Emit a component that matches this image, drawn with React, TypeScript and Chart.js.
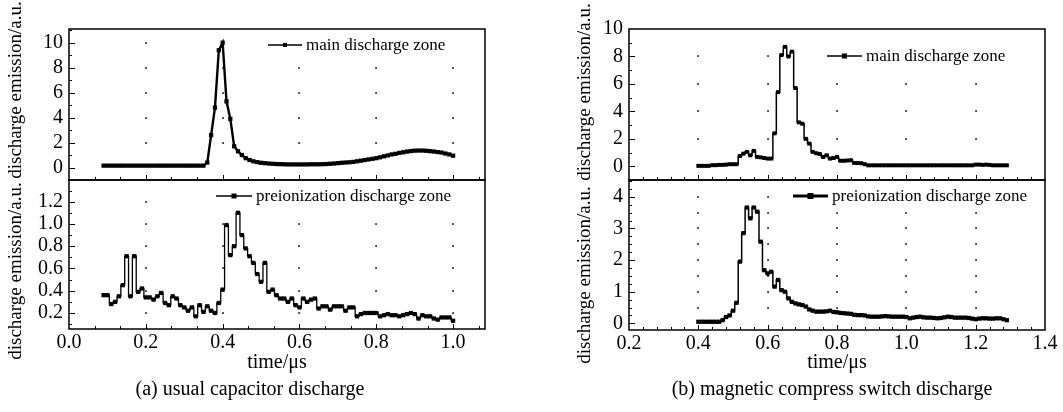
import React, { useEffect, useRef } from "react";
import { Chart, registerables } from "chart.js";
Chart.register(...registerables);

const SERIF = "'Liberation Serif', 'Times New Roman', Times, serif";
const W = 1063;
const H = 412;
const XBOX = 40;

// ---------- data: panel (a) usual capacitor discharge ----------
const timeA = [0.09,0.10,0.11,0.12,0.13,0.14,0.15,0.16,0.17,0.18,0.19,0.20,0.21,0.22,0.23,0.24,0.25,0.26,0.27,0.28,0.29,0.30,0.31,0.32,0.33,0.34,0.35,0.36,0.37,0.38,0.39,0.40,0.41,0.42,0.43,0.44,0.45,0.46,0.47,0.48,0.49,0.50,0.51,0.52,0.53,0.54,0.55,0.56,0.57,0.58,0.59,0.60,0.61,0.62,0.63,0.64,0.65,0.66,0.67,0.68,0.69,0.70,0.71,0.72,0.73,0.74,0.75,0.76,0.77,0.78,0.79,0.80,0.81,0.82,0.83,0.84,0.85,0.86,0.87,0.88,0.89,0.90,0.91,0.92,0.93,0.94,0.95,0.96,0.97,0.98,0.99,1.00];
const mainA = [0.15,0.15,0.15,0.15,0.15,0.15,0.15,0.15,0.15,0.15,0.15,0.15,0.15,0.15,0.15,0.15,0.15,0.15,0.15,0.15,0.15,0.15,0.15,0.15,0.15,0.15,0.15,
  0.4,2.6,4.8,9.4,10.0,5.3,3.9,1.7,1.3,1.0,0.75,0.6,0.5,0.43,0.38,0.35,0.32,0.3,0.28,0.27,
  0.26,0.25,0.25,0.25,0.25,0.25,0.25,0.26,0.26,0.26,0.27,0.28,0.3,0.32,0.35,
  0.38,0.4,0.42,0.45,0.5,0.55,0.6,0.65,0.7,0.75,0.82,0.9,0.97,1.05,1.1,1.17,1.22,1.28,1.32,1.35,1.36,1.36,1.34,1.31,1.28,1.24,1.2,1.12,1.05,0.95];
const preA = [0.36,0.36,0.28,0.30,0.35,0.45,0.71,0.35,0.71,0.39,
  0.42,0.34,0.34,0.32,0.35,0.38,0.29,0.27,0.35,0.33,
  0.27,0.25,0.22,0.25,0.17,0.27,0.21,0.26,0.22,0.20,
  0.29,0.41,0.99,0.72,0.80,1.10,0.90,0.78,0.71,0.65,
  0.55,0.48,0.65,0.39,0.41,0.36,0.33,0.33,0.30,0.33,
  0.27,0.25,0.33,0.30,0.32,0.33,0.24,0.26,0.26,0.23,
  0.26,0.26,0.26,0.22,0.25,0.25,0.17,0.19,0.20,0.20,
  0.20,0.20,0.17,0.18,0.19,0.18,0.18,0.17,0.18,0.19,
  0.20,0.19,0.15,0.18,0.17,0.17,0.15,0.14,0.16,0.16,
  0.16,0.13];

// ---------- data: panel (b) magnetic compress switch discharge ----------
const timeB = [0.40,0.41,0.42,0.43,0.44,0.45,0.46,0.47,0.48,0.49,0.50,0.51,0.52,0.53,0.54,0.55,0.56,0.57,0.58,0.59,0.60,0.61,0.62,0.63,0.64,0.65,0.66,0.67,0.68,0.69,0.70,0.71,0.72,0.73,0.74,0.75,0.76,0.77,0.78,0.79,0.80,0.81,0.82,0.83,0.84,0.85,0.86,0.87,0.88,0.89,0.90,0.91,0.92,0.93,0.94,0.95,0.96,0.97,0.98,0.99,1.00,1.01,1.02,1.03,1.04,1.05,1.06,1.07,1.08,1.09,1.10,1.11,1.12,1.13,1.14,1.15,1.16,1.17,1.18,1.19,1.20,1.21,1.22,1.23,1.24,1.25,1.26,1.27,1.28,1.29];
const mainB = [0.03,0.03,0.03,0.03,0.08,0.08,0.10,0.10,0.12,0.15,
  0.15,0.15,0.75,0.92,1.05,0.80,1.12,0.68,0.65,0.60,
  0.56,0.56,2.40,5.40,8.10,8.70,8.00,8.35,5.70,3.20,
  3.10,2.00,1.65,1.05,0.95,0.90,0.68,0.80,0.56,0.60,
  0.68,0.40,0.40,0.42,0.44,0.24,0.24,0.22,0.15,0.07,
  0.07,0.07,0.07,0.07,0.07,0.07,0.07,0.07,0.07,0.07,
  0.07,0.07,0.07,0.07,0.07,0.07,0.07,0.07,0.07,0.07,
  0.07,0.07,0.07,0.07,0.07,0.07,0.07,0.07,0.07,0.07,
  0.12,0.12,0.10,0.12,0.10,0.07,0.07,0.07,0.07,0.07];
const preB = [0.05,0.05,0.05,0.05,0.05,0.05,0.05,0.10,0.20,0.25,
  0.40,0.65,1.95,2.85,3.66,3.32,3.66,3.53,2.58,1.68,
  1.58,1.63,1.16,1.37,1.05,1.00,0.79,0.68,0.63,0.60,
  0.58,0.53,0.44,0.40,0.37,0.37,0.37,0.38,0.40,0.36,
  0.35,0.33,0.32,0.31,0.30,0.27,0.26,0.26,0.25,0.22,
  0.21,0.21,0.21,0.22,0.23,0.22,0.21,0.21,0.21,0.21,
  0.20,0.16,0.18,0.20,0.21,0.19,0.18,0.18,0.17,0.16,
  0.17,0.19,0.21,0.20,0.18,0.18,0.18,0.18,0.17,0.15,
  0.13,0.15,0.16,0.16,0.15,0.15,0.16,0.16,0.13,0.10];

// ---------- tick labels ----------
const xTicksA = [0.0, 0.2, 0.4, 0.6, 0.8, 1.0];
const xTicksB = [0.2, 0.4, 0.6, 0.8, 1.0, 1.2, 1.4];
const yTicksMainA = [0, 2, 4, 6, 8, 10];
const yTicksPreA = [0.2, 0.4, 0.6, 0.8, 1.0, 1.2];
const yTicksMainB = [0, 2, 4, 6, 8, 10];
const yTicksPreB = [0, 1, 2, 3, 4];

const Y_TITLE = "discharge emission/a.u.";
const X_TITLE = "time/\u03bcs";
const CAPTION_A = "(a) usual capacitor discharge";
const CAPTION_B = "(b) magnetic compress switch discharge";

function steps(a: number, b: number, step: number) {
  const out: number[] = [];
  for (let v = a; v <= b + 1e-9; v += step) out.push(Math.round(v * 1e6) / 1e6);
  return out;
}

type Spec = {
  key: string;
  xs: number[]; ys: number[]; label: string;
  area: { l: number; t: number; r: number; b: number };
  xMin: number; xMax: number; yMin: number; yMax: number;
  xTicks: number[]; xMinor: number[]; yTicks: number[]; yMinor: number[];
  yDigits: number; xLabels: boolean;
  dotX: number[]; dotY: number[];
  legend: { x: number; y: number; len: number; lw: number; ms: number };
  yTitle: { x: number; y: number };
  xTitle?: { x: number; y: number };
  caption?: { text: string; x: number; y: number };
  pr: number; lw: number; stepped: any;
};

const specs: Spec[] = [
  {
    key: "aTop", xs: timeA, ys: mainA, label: "main discharge zone",
    area: { l: 69, t: 29, r: 485, b: 180 },
    xMin: 0, xMax: 1.083, yMin: -1, yMax: 11.1,
    xTicks: xTicksA, xMinor: steps(0, 1.08, 0.2 / 3), yTicks: yTicksMainA, yMinor: steps(-1, 11, 1),
    yDigits: 0, xLabels: false,
    dotX: [0.2, 0.4, 0.6, 0.8, 1.0], dotY: [2, 4, 6, 8, 10],
    legend: { x: 268, y: 45, len: 34, lw: 1.5, ms: 4 },
    yTitle: { x: 16, y: 90 }, pr: 3, lw: 2.4, stepped: false,
  },
  {
    key: "aBot", xs: timeA, ys: preA, label: "preionization discharge zone",
    area: { l: 69, t: 180, r: 485, b: 329 },
    xMin: 0, xMax: 1.083, yMin: 0.056, yMax: 1.395,
    xTicks: xTicksA, xMinor: steps(0, 1.08, 0.2 / 3), yTicks: yTicksPreA, yMinor: steps(0.1, 1.3, 0.1),
    yDigits: 1, xLabels: true,
    dotX: [0.2, 0.4, 0.6, 0.8, 1.0], dotY: [0.2, 0.4, 0.6, 0.8, 1.0, 1.2],
    legend: { x: 216, y: 196, len: 36, lw: 1.5, ms: 5 },
    yTitle: { x: 16, y: 271 },
    xTitle: { x: 277, y: 363 },
    caption: { text: CAPTION_A, x: 250, y: 390 }, pr: 3, lw: 1.3, stepped: "middle",
  },
  {
    key: "bTop", xs: timeB, ys: mainB, label: "main discharge zone",
    area: { l: 629, t: 29, r: 1045, b: 180 },
    xMin: 0.2, xMax: 1.4, yMin: -1, yMax: 10,
    xTicks: xTicksB, xMinor: steps(0.2, 1.4, 0.04), yTicks: yTicksMainB, yMinor: steps(-1, 10, 1),
    yDigits: 0, xLabels: false,
    dotX: [0.4, 0.6, 0.8, 1.0, 1.2], dotY: [2, 4, 6, 8],
    legend: { x: 827, y: 56, len: 35, lw: 1.5, ms: 5 },
    yTitle: { x: 585, y: 92 }, pr: 2.8, lw: 1.5, stepped: "middle",
  },
  {
    key: "bBot", xs: timeB, ys: preB, label: "preionization discharge zone",
    area: { l: 629, t: 180, r: 1045, b: 330 },
    xMin: 0.2, xMax: 1.4, yMin: -0.21, yMax: 4.53,
    xTicks: xTicksB, xMinor: steps(0.2, 1.4, 0.04), yTicks: yTicksPreB, yMinor: steps(0, 4.5, 0.25),
    yDigits: 0, xLabels: true,
    dotX: [0.4, 0.6, 0.8, 1.0, 1.2], dotY: [0.5, 1, 1.5, 2, 2.5, 3, 3.5, 4],
    legend: { x: 793, y: 196, len: 35, lw: 3, ms: 6 },
    yTitle: { x: 585, y: 275 },
    xTitle: { x: 837, y: 363 },
    caption: { text: CAPTION_B, x: 832, y: 390 }, pr: 3, lw: 1.5, stepped: "middle",
  },
];

function makePaperPlugin(s: Spec) {
  const legendBox = () => ({ l: s.legend.x - 6, r: s.area.r - 2, t: s.legend.y - 12, b: s.legend.y + 12 });
  return {
    id: "paper-" + s.key,
    beforeDatasetsDraw(chart: any) {
      const { ctx, chartArea: a } = chart;
      const x = chart.scales.x, y = chart.scales.y;
      const lg = legendBox();
      ctx.save();
      ctx.fillStyle = "#000";
      for (const xv of s.dotX) {
        for (const yv of s.dotY) {
          const px = x.getPixelForValue(xv), py = y.getPixelForValue(yv);
          if (px <= a.left + 3 || px >= a.right - 3 || py <= a.top + 3 || py >= a.bottom - 3) continue;
          if (px > lg.l && px < lg.r && py > lg.t && py < lg.b) continue;
          ctx.fillRect(Math.round(px) - 0.75, Math.round(py) - 0.75, 1.6, 1.6);
        }
      }
      ctx.restore();
    },
    afterDraw(chart: any) {
      const { ctx, chartArea: a } = chart;
      const x = chart.scales.x, y = chart.scales.y;
      ctx.save();
      ctx.strokeStyle = "#000";
      ctx.fillStyle = "#000";
      // frame
      ctx.lineWidth = 1.5;
      ctx.strokeRect(a.left, a.top, a.right - a.left, a.bottom - a.top);
      // ticks (inward)
      ctx.lineWidth = 1;
      ctx.beginPath();
      for (const v of s.xMinor) {
        const px = Math.round(x.getPixelForValue(v)) + 0.5;
        if (px < a.left + 1 || px > a.right - 1) continue;
        ctx.moveTo(px, a.bottom); ctx.lineTo(px, a.bottom - 3);
      }
      for (const v of s.xTicks) {
        const px = Math.round(x.getPixelForValue(v)) + 0.5;
        if (px < a.left + 1 || px > a.right - 1) continue;
        ctx.moveTo(px, a.bottom); ctx.lineTo(px, a.bottom - 5);
      }
      for (const v of s.yMinor) {
        const py = Math.round(y.getPixelForValue(v)) + 0.5;
        if (py < a.top + 1 || py > a.bottom - 1) continue;
        ctx.moveTo(a.left, py); ctx.lineTo(a.left + 3, py);
      }
      for (const v of s.yTicks) {
        const py = Math.round(y.getPixelForValue(v)) + 0.5;
        if (py < a.top + 1 || py > a.bottom - 1) continue;
        ctx.moveTo(a.left, py); ctx.lineTo(a.left + 6, py);
      }
      ctx.stroke();
      // legend
      const L = s.legend;
      ctx.lineWidth = L.lw;
      ctx.beginPath();
      ctx.moveTo(L.x, L.y); ctx.lineTo(L.x + L.len, L.y);
      ctx.stroke();
      ctx.fillRect(L.x + L.len / 2 - L.ms / 2, L.y - L.ms / 2, L.ms, L.ms);
      ctx.font = `17px ${SERIF}`;
      ctx.textAlign = "left";
      ctx.textBaseline = "middle";
      ctx.fillText(s.label, L.x + L.len + 4, L.y + 1);
      // y title
      ctx.save();
      ctx.translate(s.yTitle.x, s.yTitle.y);
      ctx.rotate(-Math.PI / 2);
      ctx.font = `19px ${SERIF}`;
      ctx.textAlign = "center";
      ctx.textBaseline = "middle";
      ctx.fillText(Y_TITLE, 0, 0);
      ctx.restore();
      // x title and caption
      ctx.textAlign = "center";
      ctx.textBaseline = "middle";
      if (s.xTitle) {
        ctx.font = `20px ${SERIF}`;
        ctx.fillText(X_TITLE, s.xTitle.x, s.xTitle.y);
      }
      if (s.caption) {
        ctx.font = `20px ${SERIF}`;
        ctx.fillText(s.caption.text, s.caption.x, s.caption.y);
      }
      ctx.restore();
    },
  };
}

function buildConfig(s: Spec): any {
  const fmtY = (v: any) => (s.yDigits ? Number(v).toFixed(s.yDigits) : String(v));
  const xBox = s.xLabels ? XBOX : 0;
  return {
    type: "line",
    data: {
      datasets: [
        {
          label: s.label,
          data: s.xs.map((xv, i) => ({ x: xv, y: s.ys[i] })),
          borderColor: "#000",
          backgroundColor: "#000",
          borderWidth: s.lw,
          pointStyle: "rect",
          pointRadius: s.pr,
          pointBorderWidth: 0,
          pointBackgroundColor: "#000",
          stepped: s.stepped,
          fill: false,
        },
      ],
    },
    options: {
      responsive: false,
      animation: false,
      events: [],
      layout: { padding: { left: s.area.l - 69, right: W - s.area.r, top: s.area.t, bottom: H - s.area.b - xBox } },
      plugins: { legend: { display: false }, tooltip: { enabled: false } },
      scales: {
        x: {
          type: "linear",
          min: s.xMin,
          max: s.xMax,
          display: s.xLabels,
          grid: { display: false, drawTicks: false },
          border: { display: false },
          afterBuildTicks: (sc: any) => { sc.ticks = s.xTicks.map((v) => ({ value: v })); },
          afterFit: (sc: any) => { sc.height = xBox; },
          ticks: {
            autoSkip: false,
            maxRotation: 0,
            padding: 2,
            color: "#000",
            font: { family: SERIF, size: 20 },
            callback: (v: any) => Number(v).toFixed(1),
          },
        },
        y: {
          type: "linear",
          min: s.yMin,
          max: s.yMax,
          grid: { display: false, drawTicks: false },
          border: { display: false },
          afterBuildTicks: (sc: any) => { sc.ticks = s.yTicks.map((v) => ({ value: v })); },
          afterFit: (sc: any) => { sc.width = 69; },
          ticks: {
            autoSkip: false,
            padding: 6,
            color: "#000",
            font: { family: SERIF, size: 20 },
            callback: fmtY,
          },
        },
      },
    },
    plugins: [makePaperPlugin(s)],
  };
}

export default function App() {
  const refs = useRef<(HTMLCanvasElement | null)[]>([]);
  useEffect(() => {
    const charts = specs.map((s, i) => new Chart(refs.current[i] as HTMLCanvasElement, buildConfig(s)));
    return () => charts.forEach((c) => c.destroy());
  }, []);
  return (
    <div style={{ position: "absolute", left: 0, top: 0, width: W, height: H, background: "#fff", overflow: "hidden" }}>
      {specs.map((s, i) => (
        <canvas
          key={s.key}
          ref={(el) => { refs.current[i] = el; }}
          width={W}
          height={H}
          style={{ position: "absolute", left: 0, top: 0 }}
        />
      ))}
    </div>
  );
}
